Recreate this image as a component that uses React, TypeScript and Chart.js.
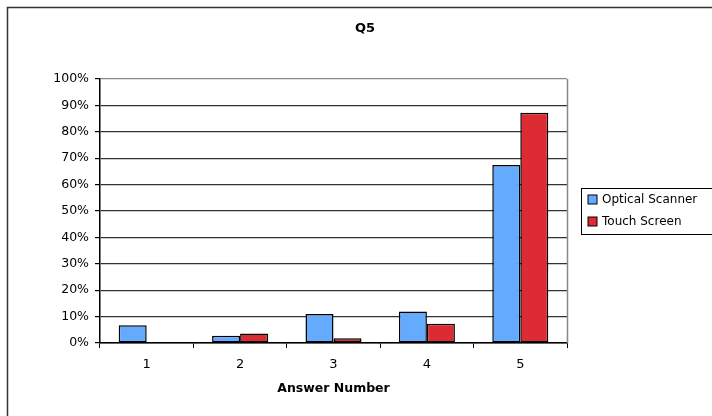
import React, { useEffect, useRef } from "react";
import { Chart, registerables } from "chart.js";

Chart.register(...registerables);

const categories = ["1", "2", "3", "4", "5"];
const opticalScanner = [6.7, 2.7, 11.0, 11.9, 67.4];
const touchScreen = [0, 3.6, 1.8, 7.3, 87.2];
const seriesNames = ["Optical Scanner", "Touch Screen"];
const chartTitle = "Q5";
const xAxisTitle = "Answer Number";

const FONT = "'DejaVu Sans', Arial, sans-serif";

const framePlugin = {
  id: "frame",
  beforeDraw(chart: any) {
    const { ctx, width, height } = chart;
    ctx.save();
    ctx.fillStyle = "#fff";
    ctx.fillRect(0, 0, width, height);
    ctx.strokeStyle = "#333";
    ctx.lineWidth = 1.5;
    ctx.beginPath();
    ctx.moveTo(7.5, height);
    ctx.lineTo(7.5, 7.5);
    ctx.lineTo(width, 7.5);
    ctx.stroke();
    ctx.font = `bold 13px ${FONT}`;
    ctx.fillStyle = "#000";
    ctx.textAlign = "center";
    ctx.textBaseline = "middle";
    ctx.fillText(chartTitle, 365, 29);
    ctx.restore();
  },
  beforeDatasetsDraw(chart: any) {
    const { ctx, chartArea } = chart;
    ctx.save();
    ctx.strokeStyle = "#888";
    ctx.lineWidth = 1.5;
    ctx.beginPath();
    ctx.moveTo(Math.round(chartArea.right) + 0.5, chartArea.top);
    ctx.lineTo(Math.round(chartArea.right) + 0.5, chartArea.bottom);
    ctx.stroke();
    ctx.restore();
  },
  afterDraw(chart: any) {
    const { ctx, width } = chart;
    const dsets = chart.data.datasets;
    ctx.save();
    const boxLeft = 581.5;
    const boxTop = 188.5;
    const boxBottom = 234.5;
    ctx.fillStyle = "#fff";
    ctx.fillRect(boxLeft, boxTop, width - boxLeft + 5, boxBottom - boxTop);
    ctx.strokeStyle = "#000";
    ctx.lineWidth = 1;
    ctx.strokeRect(boxLeft, boxTop, width - boxLeft + 5, boxBottom - boxTop);
    ctx.font = `12px ${FONT}`;
    ctx.textBaseline = "middle";
    ctx.textAlign = "left";
    dsets.forEach((ds: any, i: number) => {
      const cy = 199.5 + i * 22;
      ctx.fillStyle = ds.backgroundColor;
      ctx.fillRect(588, cy - 4.5, 9, 9);
      ctx.strokeStyle = "#000";
      ctx.lineWidth = 1;
      ctx.strokeRect(588, cy - 4.5, 9, 9);
      ctx.fillStyle = "#000";
      ctx.fillText(ds.label, 602, cy + 0.5);
    });
    ctx.restore();
  },
};

export default function App() {
  const ref = useRef<HTMLCanvasElement>(null);
  useEffect(() => {
    document.body.style.margin = "0";
    const canvas = ref.current;
    if (!canvas) return;
    const chart = new Chart(canvas, {
      type: "bar",
      data: {
        labels: categories,
        datasets: [
          {
            label: seriesNames[0],
            data: opticalScanner,
            backgroundColor: "#64AAFF",
            borderColor: "#000",
            borderWidth: 1.5,
            borderSkipped: false,
          },
          {
            label: seriesNames[1],
            data: touchScreen,
            backgroundColor: "#DC2B33",
            borderColor: "#000",
            borderWidth: 1.5,
            borderSkipped: false,
          },
        ],
      },
      options: {
        responsive: false,
        animation: false,
        layout: { padding: { left: 0, right: 145, top: 79, bottom: 0 } },
        datasets: { bar: { categoryPercentage: 0.6, barPercentage: 1 } },
        plugins: {
          legend: { display: false },
          tooltip: { enabled: false },
          title: { display: false },
        },
        scales: {
          x: {
            afterFit(scale: any) {
              scale.height = 73;
            },
            grid: {
              offset: true,
              drawOnChartArea: false,
              drawTicks: true,
              tickLength: 5,
              tickColor: "#000",
              lineWidth: 1,
            },
            border: { display: true, color: "#000", width: 1.5 },
            ticks: {
              color: "#000",
              font: { family: FONT, size: 13 },
              padding: 9,
            },
            title: {
              display: true,
              text: xAxisTitle,
              color: "#000",
              font: { family: FONT, size: 12.5, weight: "bold" },
              padding: { top: 0, bottom: 20 },
            },
          },
          y: {
            min: 0,
            max: 100,
            afterFit(scale: any) {
              scale.width = 100;
            },
            ticks: {
              stepSize: 10,
              color: "#000",
              font: { family: FONT, size: 12.5 },
              padding: 6,
              callback: (v: any) => `${v}%`,
            },
            grid: {
              color: (c: any) => (c.tick && c.tick.value === 100 ? "#888" : "#333"),
              lineWidth: 1.2,
              tickLength: 5,
              tickColor: "#000",
            },
            border: { display: true, color: "#000", width: 1.5 },
          },
        },
      },
      plugins: [framePlugin],
    });
    return () => chart.destroy();
  }, []);
  return (
    <div style={{ width: 712, height: 416, position: "relative" }}>
      <canvas ref={ref} width={712} height={416} style={{ display: "block" }} />
    </div>
  );
}
